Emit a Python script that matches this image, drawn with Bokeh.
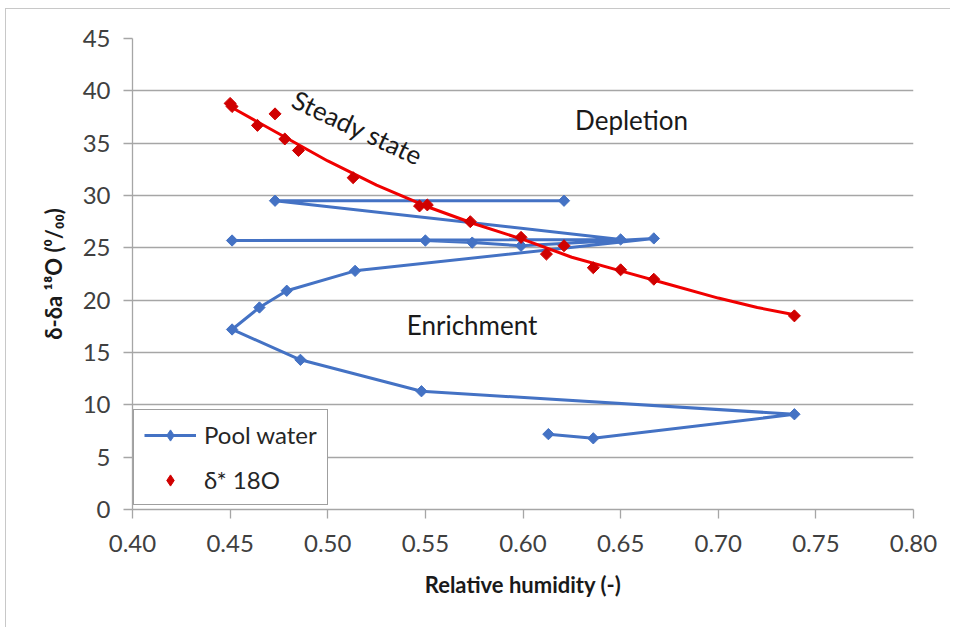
import math
from bokeh.plotting import figure
from bokeh.models import Range1d, FixedTicker, Legend, LegendItem, Label, PrintfTickFormatter
from bokeh.embed import file_html
from bokeh.resources import INLINE

# ---- data ----
# Pool water, in sampling order
pool_rh = [0.613, 0.636, 0.739, 0.548, 0.486, 0.451, 0.465, 0.479, 0.514,
           0.667, 0.599, 0.574, 0.550, 0.451, 0.650, 0.473, 0.621]
pool_d = [7.2, 6.8, 9.1, 11.3, 14.3, 17.2, 19.3, 20.9, 22.8,
          25.9, 25.2, 25.5, 25.7, 25.7, 25.8, 29.5, 29.5]

# delta* 18O points
star_rh = [0.450, 0.451, 0.464, 0.473, 0.478, 0.485, 0.513, 0.547, 0.551,
           0.573, 0.599, 0.612, 0.621, 0.636, 0.650, 0.667, 0.739]
star_d = [38.8, 38.5, 36.7, 37.8, 35.4, 34.3, 31.7, 29.0, 29.1,
          27.5, 26.0, 24.4, 25.2, 23.1, 22.9, 22.0, 18.5]

# steady state trend curve
steady_rh = [0.450, 0.475, 0.500, 0.525, 0.550, 0.575, 0.600, 0.625,
             0.650, 0.675, 0.700, 0.720, 0.739]
steady_d = [38.5, 35.9, 33.3, 31.0, 29.0, 27.3, 25.8, 24.1,
            22.8, 21.5, 20.2, 19.3, 18.6]

x_ticks = [0.40, 0.45, 0.50, 0.55, 0.60, 0.65, 0.70, 0.75, 0.80]
y_ticks = [0, 5, 10, 15, 20, 25, 30, 35, 40, 45]

BLUE = "#4472C4"
RED_LINE = "#F00000"
RED_PT = "#D00000"
FONT = "Lato"
GRID = "#a6a6a6"

p = figure(width=945, height=619, x_range=Range1d(0.40, 0.80), y_range=Range1d(0, 45),
           output_backend="svg", toolbar_location=None,
           min_border_left=126, min_border_right=38, min_border_top=29, min_border_bottom=119)
p.styles = {"border-top": "1px solid #c8c8c8", "border-left": "1px solid #c8c8c8",
            "margin-left": "5px", "margin-top": "8px"}
p.outline_line_color = None
p.background_fill_color = "white"
p.border_fill_color = "white"

p.xgrid.visible = False
p.ygrid.grid_line_color = GRID
p.ygrid.grid_line_width = 1.3
p.ygrid.ticker = FixedTicker(ticks=y_ticks)

for ax in (p.xaxis[0], p.yaxis[0]):
    ax.axis_line_color = GRID
    ax.axis_line_width = 1.3
    ax.major_tick_line_color = GRID
    ax.major_tick_line_width = 1.3
    ax.major_tick_in = 0
    ax.major_tick_out = 9
    ax.minor_tick_line_color = None
    ax.major_label_text_font = FONT
    ax.major_label_text_font_size = "24px"
    ax.major_label_text_color = "#404040"
    ax.axis_label_text_font = FONT
    ax.axis_label_text_font_size = "22px"
    ax.axis_label_text_font_style = "bold"
    ax.axis_label_text_color = "#1a1a1a"

p.xaxis.ticker = FixedTicker(ticks=x_ticks)
p.xaxis.formatter = PrintfTickFormatter(format="%.2f")
p.yaxis.ticker = FixedTicker(ticks=y_ticks)
p.xaxis.axis_label = "Relative humidity (-)"
p.yaxis.axis_label = "δ-δa ¹⁸O (⁰/₀₀)"
p.xaxis.major_label_standoff = 16
p.yaxis.major_label_standoff = 13
p.xaxis.axis_label_standoff = 16
p.yaxis.axis_label_standoff = 13

blue_line = p.line(pool_rh, pool_d, line_color=BLUE, line_width=3)
blue_pts = p.scatter(pool_rh, pool_d, marker="square", angle=math.pi / 4, size=8,
                     fill_color=BLUE, line_color=BLUE)
p.line(steady_rh, steady_d, line_color=RED_LINE, line_width=3)
red_pts = p.scatter(star_rh, star_d, marker="square", angle=math.pi / 4, size=8.5,
                    fill_color=RED_PT, line_color=RED_PT)

# legend swatches: diamond markers placed outside the visible range
key_x = [0.0]
key_y = [-10.0]
blue_key = p.scatter(key_x, key_y, marker="diamond", size=14, fill_color=BLUE, line_color=BLUE)
red_key = p.scatter(key_x, key_y, marker="diamond", size=14, fill_color=RED_PT, line_color=RED_PT)

legend = Legend(items=[LegendItem(label="Pool water", renderers=[blue_line, blue_key]),
                       LegendItem(label="δ* 18O", renderers=[red_key])],
                location=(1, 4), margin=0, padding=10, spacing=16,
                glyph_width=52, glyph_height=28, label_height=28, label_standoff=8,
                label_text_font=FONT, label_text_font_size="24px", label_text_color="#262626",
                border_line_color="#404040", border_line_width=1.5,
                background_fill_color="white", background_fill_alpha=1.0)
p.add_layout(legend)

for txt, x, y, ang in [("Depletion", 0.6556, 37.2, 0),
                       ("Enrichment", 0.5739, 17.6, 0),
                       ("Steady state", 0.5153, 36.5, -25)]:
    p.add_layout(Label(x=x, y=y, text=txt, text_align="center", text_baseline="middle",
                       angle=ang, angle_units="deg", text_font=FONT,
                       text_font_size="26px", text_color="#1a1a1a"))

open("out.html", "w").write(file_html(p, INLINE))
